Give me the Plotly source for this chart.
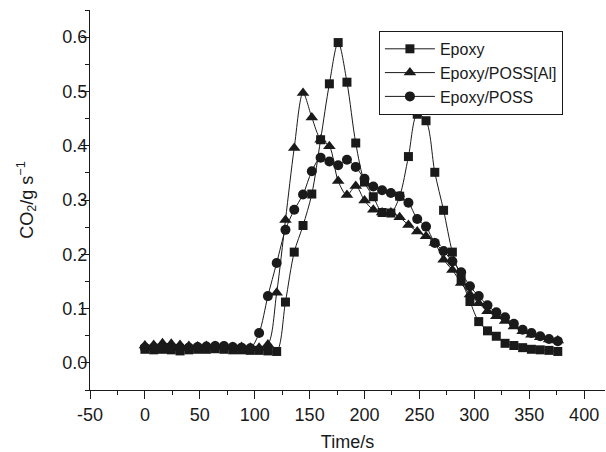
import plotly.graph_objects as go

time_s = [0, 8, 16, 24, 32, 40, 48, 56, 64, 72, 80, 88, 96, 104, 112, 120, 128, 136, 144, 152,
          160, 168, 176, 184, 192, 200, 208, 216, 224, 232, 240, 248, 256, 264, 272, 280, 288,
          296, 304, 312, 320, 328, 336, 344, 352, 360, 368, 376]

epoxy = [0.025, 0.024, 0.025, 0.024, 0.022, 0.024, 0.025, 0.025, 0.026, 0.025, 0.024, 0.024,
         0.023, 0.023, 0.022, 0.021, 0.112, 0.204, 0.253, 0.311, 0.411, 0.514, 0.590, 0.517,
         0.405, 0.333, 0.306, 0.277, 0.276, 0.307, 0.380, 0.458, 0.446, 0.351, 0.281, 0.204,
         0.155, 0.113, 0.076, 0.059, 0.049, 0.036, 0.032, 0.028, 0.025, 0.024, 0.023, 0.021]

epoxy_poss_al = [0.032, 0.033, 0.036, 0.035, 0.033, 0.031, 0.030, 0.031, 0.031, 0.030, 0.029,
                 0.029, 0.028, 0.028, 0.034, 0.129, 0.263, 0.396, 0.497, 0.452, 0.411, 0.399,
                 0.335, 0.309, 0.326, 0.299, 0.282, 0.277, 0.277, 0.268, 0.254, 0.242, 0.233,
                 0.221, 0.190, 0.171, 0.147, 0.126, 0.110, 0.095, 0.086, 0.077, 0.067, 0.058,
                 0.052, 0.047, 0.043, 0.041]

epoxy_poss = [0.028, 0.028, 0.027, 0.027, 0.028, 0.028, 0.029, 0.030, 0.031, 0.031, 0.029,
              0.028, 0.027, 0.055, 0.123, 0.184, 0.245, 0.282, 0.310, 0.353, 0.378, 0.371,
              0.364, 0.374, 0.361, 0.339, 0.325, 0.318, 0.313, 0.307, 0.295, 0.265, 0.251,
              0.221, 0.206, 0.187, 0.167, 0.141, 0.123, 0.106, 0.093, 0.084, 0.072, 0.061,
              0.055, 0.049, 0.044, 0.040]

series = [
    ("Epoxy", epoxy, "square", 9),
    ("Epoxy/POSS[Al]", epoxy_poss_al, "triangle-up", 11),
    ("Epoxy/POSS", epoxy_poss, "circle", 10),
]

x_ticks = [-50, 0, 50, 100, 150, 200, 250, 300, 350, 400]
y_ticks = [0.0, 0.1, 0.2, 0.3, 0.4, 0.5, 0.6]
y_range = [-0.05, 0.65]

fig = go.Figure()
for name, vals, sym, size in series:
    fig.add_trace(go.Scatter(
        x=time_s, y=vals, name=name, mode="lines+markers",
        line=dict(color="#1a1a1a", width=1, shape="spline", smoothing=0.9),
        marker=dict(symbol=sym, size=size, color="#1a1a1a"),
    ))

font_family = "Liberation Sans, Arial, sans-serif"

fig.update_layout(
    width=606, height=452,
    margin=dict(l=90, r=1, t=10, b=62),
    paper_bgcolor="white", plot_bgcolor="white",
    font=dict(family=font_family, size=18, color="#1a1a1a"),
    showlegend=True,
    legend=dict(
        x=0.561, y=0.945, xanchor="left", yanchor="top",
        bordercolor="#1a1a1a", borderwidth=1, bgcolor="white",
        font=dict(size=16, family=font_family, color="#1a1a1a"),
        tracegroupgap=0, itemsizing="trace", itemwidth=50,
    ),
    xaxis=dict(
        range=[-50, 419], showgrid=False, zeroline=False, automargin=False,
        showline=True, linecolor="#1a1a1a", linewidth=1,
        tickmode="array", tickvals=x_ticks, ticktext=[str(v) for v in x_ticks],
        ticks="outside", ticklen=8, tickcolor="#1a1a1a",
        minor=dict(dtick=25, tick0=-50, ticks="outside", ticklen=4, tickcolor="#1a1a1a"),
        title=dict(text="Time/s", standoff=19, font=dict(size=18)),
        tickfont=dict(size=18),
    ),
    yaxis=dict(
        range=y_range, showgrid=False, zeroline=False, automargin=False,
        showline=True, linecolor="#1a1a1a", linewidth=1,
        tickmode="array", tickvals=y_ticks, ticktext=[f"{v:.1f}" for v in y_ticks],
        ticks="outside", ticklen=8, tickcolor="#1a1a1a",
        ticklabelstandoff=-10,
        minor=dict(dtick=0.05, tick0=0, ticks="outside", ticklen=4, tickcolor="#1a1a1a"),
        title=dict(text="CO<sub>2</sub>/g s<sup>−1</sup>", standoff=24, font=dict(size=18)),
        tickfont=dict(size=18),
    ),
)

fig.write_html("out.html")
